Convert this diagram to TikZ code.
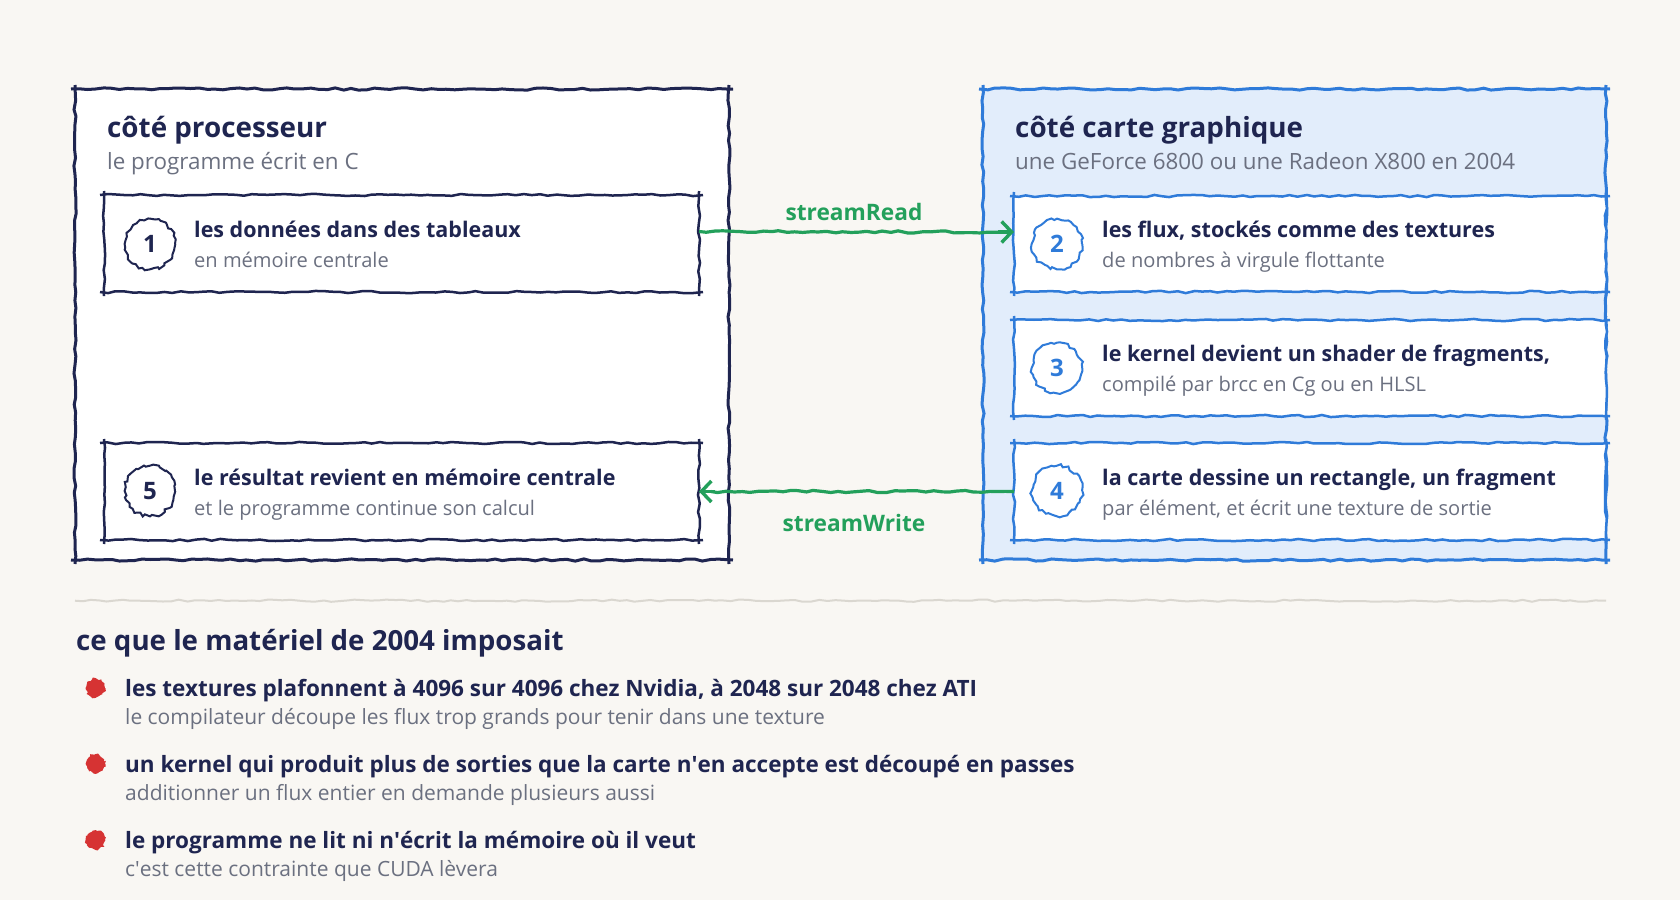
\documentclass[tikz,border=0pt]{standalone}
\usepackage{fontspec}
\setmainfont{Open Sans}
\usetikzlibrary{decorations.pathmorphing,arrows.meta}
\definecolor{bg}{HTML}{F9F7F3}
\definecolor{ink}{HTML}{1F2550}
\definecolor{subc}{HTML}{6B7080}
\definecolor{grn}{HTML}{23A05B}
\definecolor{blu}{HTML}{2F7BD9}
\definecolor{lblu}{HTML}{E2EDFB}
\definecolor{redd}{HTML}{D63333}
\definecolor{sepc}{HTML}{DAD7D0}
\newcommand\skbox[3]{%
  \draw[rough,#2,line width=#3] ([xshift=-4pt]#1.north west) -- ([xshift=4pt]#1.north east);
  \draw[rough,#2,line width=#3] ([xshift=-4pt]#1.south west) -- ([xshift=4pt]#1.south east);
  \draw[rough,#2,line width=#3] ([yshift=4pt]#1.north west) -- ([yshift=-4pt]#1.south west);
  \draw[rough,#2,line width=#3] ([yshift=4pt]#1.north east) -- ([yshift=-4pt]#1.south east);}
\begin{document}
\begin{tikzpicture}[x=1pt,y=-1pt,
  rough/.style={decorate,decoration={random steps,segment length=8pt,amplitude=1.1pt}},
  boxfill/.style={anchor=north west,inner sep=0pt,outer sep=0pt,draw=none},
  ttl/.style={anchor=base west,inner sep=0pt,text=ink,font=\fontsize{27.8}{32}\selectfont\bfseries},
  stl/.style={anchor=base west,inner sep=0pt,text=subc,font=\fontsize{22.4}{26}\selectfont},
  itl/.style={anchor=base west,inner sep=0pt,text=ink,font=\fontsize{21.5}{25}\selectfont\bfseries},
  isub/.style={anchor=base west,inner sep=0pt,text=subc,font=\fontsize{20.1}{24}\selectfont},
  num/.style={circle,minimum size=50pt,inner sep=0pt,fill=white,line width=2pt,
    decorate,decoration={random steps,segment length=3.5pt,amplitude=1.7pt},
    font=\fontsize{24}{27}\selectfont\bfseries},
  lbl/.style={anchor=base,inner sep=0pt,text=grn,font=\fontsize{22.7}{26}\selectfont\bfseries},
  flow/.style={grn,line width=3.2pt},
  tipst/.style={-{Straight Barb[length=10pt,width=21pt,line width=3.4pt]}},
  blob/.style={circle,fill=redd,minimum size=19pt,inner sep=0pt,
    decorate,decoration={random steps,segment length=2pt,amplitude=1.3pt}},
  hd/.style={anchor=base west,inner sep=0pt,text=ink,font=\fontsize{27.7}{32}\selectfont\bfseries},
  btl/.style={anchor=base west,inner sep=0pt,text=ink,font=\fontsize{22.5}{26}\selectfont\bfseries},
  bsub/.style={anchor=base west,inner sep=0pt,text=subc,font=\fontsize{21}{25}\selectfont}
]
\pgfmathsetseed{7}
\useasboundingbox (0,0) rectangle (1680,900);
\fill[bg] (0,0) rectangle (1680,900);

% outer boxes
\node[boxfill,fill=white,minimum width=654pt,minimum height=471pt] (cpu) at (75,89) {};
\node[boxfill,fill=lblu,minimum width=623pt,minimum height=471pt] (gpu) at (983,89) {};
\skbox{cpu}{ink}{3pt}
\skbox{gpu}{blu}{3pt}

\node[ttl] (cpuT) at (107,137.7) {côté processeur};
\node[stl] (cpuS) at (107,169.3) {le programme écrit en C};
\node[ttl] (gpuT) at (1015,137.7) {côté carte graphique};
\node[stl] (gpuS) at (1015,169.3) {une GeForce 6800 ou une Radeon X800 en 2004};

% inner boxes
\node[boxfill,fill=white,minimum width=595pt,minimum height=97pt] (b1) at (104,195) {};
\node[boxfill,fill=white,minimum width=595pt,minimum height=97pt] (b5) at (104,443) {};
\node[boxfill,fill=white,minimum width=592pt,minimum height=96pt] (b2) at (1014,196) {};
\node[boxfill,fill=white,minimum width=592pt,minimum height=96pt] (b3) at (1014,320) {};
\node[boxfill,fill=white,minimum width=592pt,minimum height=97pt] (b4) at (1014,443) {};
\skbox{b1}{ink}{2.5pt}
\skbox{b5}{ink}{2.5pt}
\skbox{b2}{blu}{2.5pt}
\skbox{b3}{blu}{2.5pt}
\skbox{b4}{blu}{2.5pt}

% numbers
\node[num,draw=ink,text=ink] (n1) at (150,244) {1};
\node[num,draw=ink,text=ink] (n5) at (150,491) {5};
\node[num,draw=blu,text=blu] (n2) at (1057,244) {2};
\node[num,draw=blu,text=blu] (n3) at (1057,368) {3};
\node[num,draw=blu,text=blu] (n4) at (1057,491) {4};

% item texts
\node[itl] (t1) at (194,237.3) {les données dans des tableaux};
\node[isub] (s1) at (194,267.3) {en mémoire centrale};
\node[itl] (t5) at (194,485.7) {le résultat revient en mémoire centrale};
\node[isub] (s5) at (194,515) {et le programme continue son calcul};
\node[itl] (t2) at (1102,237.3) {les flux, stockés comme des textures};
\node[isub] (s2) at (1102,267.3) {de nombres à virgule flottante};
\node[itl] (t3) at (1102,361.3) {le kernel devient un shader de fragments,};
\node[isub] (s3) at (1102,391.3) {compilé par brcc en Cg ou en HLSL};
\node[itl] (t4) at (1102,485.7) {la carte dessine un rectangle, un fragment};
\node[isub] (s4) at (1102,515) {par élément, et écrit une texture de sortie};

% connectors
\draw[flow,rough] ([yshift=12pt]b1.east) -- ([yshift=12pt,xshift=-12pt]b2.west);
\draw[flow,tipst] ([yshift=12pt,xshift=-16pt]b2.west) -- ([yshift=12pt]b2.west);
\draw[flow,rough] (b4.west) -- ([xshift=12pt]b5.east);
\draw[flow,tipst] ([xshift=16pt]b5.east) -- (b5.east);
\node[lbl] (lr) at (854,220) {streamRead};
\node[lbl] (lw) at (854,531.7) {streamWrite};

% separator
\coordinate (sepL) at (75,600.7);
\coordinate (sepR) at (1606,600.7);
\draw[sepc,line width=2pt,rough] (sepL) -- (sepR);

% constraints
\node[hd] (h) at (76,650.7) {ce que le matériel de 2004 imposait};
\node[blob] (d1) at (95.5,688) {};
\node[blob] (d2) at (95.5,764) {};
\node[blob] (d3) at (95.5,840) {};
\node[btl] (c1) at (125,696.7) {les textures plafonnent à 4096 sur 4096 chez Nvidia, à 2048 sur 2048 chez ATI};
\node[bsub] (c1s) at (125,724) {le compilateur découpe les flux trop grands pour tenir dans une texture};
\node[btl] (c2) at (125,772.7) {un kernel qui produit plus de sorties que la carte n\textquotesingle en accepte est découpé en passes};
\node[bsub] (c2s) at (125,800) {additionner un flux entier en demande plusieurs aussi};
\node[btl] (c3) at (125,848.3) {le programme ne lit ni n\textquotesingle écrit la mémoire où il veut};
\node[bsub] (c3s) at (125,876) {c\textquotesingle est cette contrainte que CUDA lèvera};
\end{tikzpicture}
\end{document}
